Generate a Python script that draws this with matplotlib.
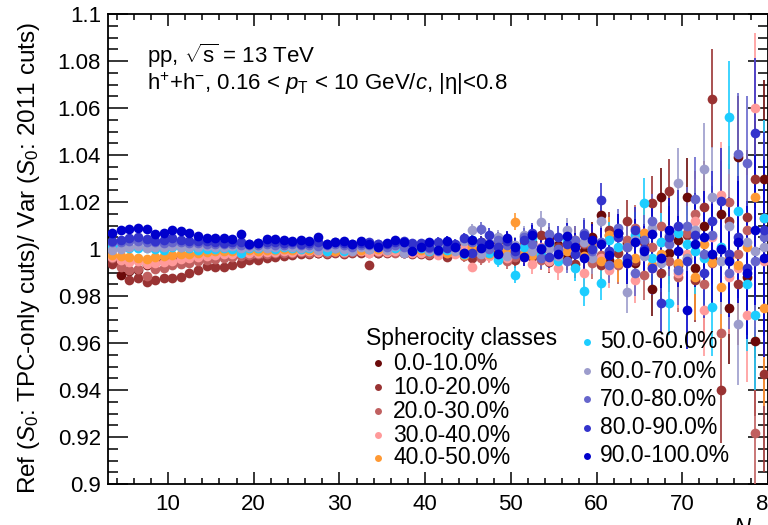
import numpy as np
import matplotlib
matplotlib.use('Agg')
import matplotlib.pyplot as plt
from matplotlib.ticker import MultipleLocator, FuncFormatter

plt.rcParams['font.family'] = ['Liberation Sans', 'DejaVu Sans']
plt.rcParams['mathtext.fontset'] = 'custom'
plt.rcParams['mathtext.rm'] = 'Liberation Sans'
plt.rcParams['mathtext.it'] = 'Liberation Sans:italic'
plt.rcParams['mathtext.bf'] = 'Liberation Sans:bold'

# multiplicity bin centres
nch = np.arange(3.5, 80.0, 1.0)

classes = ['0.0-10.0%', '10.0-20.0%', '20.0-30.0%', '30.0-40.0%', '40.0-50.0%',
           '50.0-60.0%', '60.0-70.0%', '70.0-80.0%', '80.0-90.0%', '90.0-100.0%']
colors = ['#6b0a0a', '#993333', '#c06060', '#ff9a9a', '#ff9933',
          '#1ccdff', '#9c9ccc', '#6666cc', '#3333cc', '#0000cc']

s0_10 = [0.9955, 0.9890, 0.9908, 0.9912, 0.9930, 0.9945, 0.9950, 0.9955, 0.9960, 0.9963,
         0.9966, 0.9968, 0.9972, 0.9975, 0.9975, 0.9978, 0.9980, 0.9978, 0.9982, 0.9980,
         0.9985, 0.9982, 0.9985, 0.9988, 0.9985, 0.9990, 0.9988, 0.9985, 0.9990, 0.9988,
         0.9992, 0.9985, 0.9990, 0.9988, 0.9985, 0.9992,
         0.9988, 1.0002, 0.9985, 1.0010, 0.9990, 1.0015, 0.9992, 1.0030, 1.0008, 1.0035, 0.9985,
         1.0012, 0.9980, 1.0030, 0.9970, 1.0045, 1.0015, 0.9965, 1.0030, 0.9990, 1.0050,
         1.0145, 0.9955, 1.0070, 1.0025, 0.9940, 1.0060, 0.9830, 1.0220, 0.9985, 1.0040,
         1.0223, 0.9920, 1.0100, 0.9960, 1.0150, 0.9750, 1.0390, 0.9880, 0.9610, 1.0300]
s10_20 = [0.9935, 0.9930, 0.9868, 0.9875, 0.9861, 0.9868, 0.9875, 0.9877, 0.9879, 0.9899,
          0.9911, 0.9929, 0.9925, 0.9925, 0.9932, 0.9939, 0.9953, 0.9955, 0.9962, 0.9968,
          0.9972, 0.9975, 0.9978, 0.9980, 0.9982, 0.9980, 0.9985, 0.9980, 0.9984, 0.9982,
          0.9930, 0.9985, 0.9983, 0.9987, 0.9985, 0.9980,
          0.9980, 0.9975, 0.9990, 0.9965, 0.9995, 0.9980, 0.9960, 1.0010, 0.9975, 0.9990, 1.0040,
          0.9955, 1.0020, 0.9965, 1.0060, 0.9945, 1.0010, 1.0050, 0.9935, 1.0020, 0.9960,
          0.9930, 1.0080, 0.9985, 1.0120, 0.9950, 1.0030, 1.0196, 0.9900, 1.0248, 0.9930,
          1.0060, 0.9870, 1.0180, 1.0639, 0.9400, 1.0120, 0.9850, 1.0136, 1.0300, 0.9470]
s20_30 = [0.9960, 0.9925, 0.9911, 0.9913, 0.9885, 0.9913, 0.9920, 0.9930, 0.9935, 0.9940,
          0.9950, 0.9955, 0.9958, 0.9962, 0.9965, 0.9970, 0.9975, 0.9978, 0.9980, 0.9982,
          0.9985, 0.9983, 0.9986, 0.9985, 0.9988, 0.9984, 0.9988, 0.9985, 0.9987, 0.9990,
          0.9985, 0.9988, 0.9990, 0.9985, 0.9988, 0.9990,
          0.9990, 0.9978, 0.9995, 0.9982, 1.0000, 0.9970, 0.9985, 0.9960, 1.0005, 0.9975, 0.9950,
          0.9968, 1.0015, 0.9980, 0.9955, 1.0030, 0.9970, 1.0045, 0.9990, 1.0025, 0.9940,
          0.9975, 1.0060, 0.9930, 1.0040, 1.0090, 0.9890, 1.0010, 1.0100, 0.9950, 0.9880,
          1.0070, 1.0150, 0.9850, 0.9940, 0.9644, 1.0200, 0.9980, 1.0080, 0.9216, 1.0130]
s30_40 = [0.9965, 0.9955, 0.9945, 0.9948, 0.9935, 0.9940, 0.9945, 0.9950, 0.9958, 0.9962,
          0.9968, 0.9972, 0.9975, 0.9978, 0.9980, 0.9982, 0.9985, 0.9983, 0.9986, 0.9988,
          0.9990, 0.9988, 0.9992, 0.9990, 0.9988, 0.9993, 0.9990, 0.9988, 0.9995, 0.9990,
          0.9985, 0.9990, 0.9988, 0.9992, 0.9990, 0.9985,
          0.9985, 0.9992, 0.9975, 0.9995, 0.9980, 1.0005, 0.9925, 0.9990, 0.9970, 1.0010, 0.9960,
          0.9990, 0.9965, 0.9935, 1.0010, 0.9950, 0.9920, 1.0020, 0.9985, 0.9900, 1.0030,
          0.9960, 0.9910, 1.0050, 0.9940, 0.9870, 1.0070, 0.9920, 1.0030, 1.0080, 0.9900,
          0.9980, 1.0120, 0.9740, 1.0050, 1.0230, 0.9880, 0.9920, 0.9720, 1.0600, 0.9950]
s40_50 = [0.9975, 0.9969, 0.9968, 0.9961, 0.9958, 0.9968, 0.9970, 0.9975, 0.9978, 0.9980,
          0.9985, 0.9988, 0.9990, 0.9992, 0.9990, 0.9992, 0.9995, 0.9992, 0.9996, 0.9995,
          0.9998, 0.9996, 0.9998, 0.9995, 0.9995, 0.9998, 0.9990, 0.9996, 1.0000, 0.9995,
          0.9998, 1.0000, 0.9995, 1.0005, 0.9998, 1.0002,
          0.9995, 0.9990, 1.0005, 0.9985, 1.0000, 0.9975, 1.0010, 0.9990, 0.9980, 1.0005, 0.9990,
          1.0116, 0.9985, 0.9975, 0.9990, 1.0020, 0.9965, 0.9990, 1.0040, 0.9970, 1.0010,
          0.9950, 1.0060, 0.9940, 1.0010, 0.9960, 1.0070, 0.9930, 0.9980, 1.0050, 0.9940,
          0.9960, 0.9880, 1.0020, 0.9945, 0.9840, 0.9960, 0.9930, 1.0010, 1.0223, 0.9750]
s50_60 = [1.0008, 1.0010, 1.0005, 1.0005, 1.0005, 1.0002, 0.9995, 1.0008, 1.0010, 1.0005,
          0.9995, 1.0002, 0.9998, 1.0005, 1.0000, 0.9985, 1.0003, 1.0005, 1.0008, 0.9998,
          1.0010, 1.0003, 1.0000, 1.0005, 1.0010, 0.9990, 1.0005, 0.9990, 1.0008, 1.0012,
          1.0000, 1.0008, 1.0015, 1.0005, 1.0000, 1.0002,
          1.0005, 0.9990, 1.0015, 0.9995, 1.0010, 0.9980, 1.0040, 1.0015, 0.9985, 0.9953, 1.0030,
          0.9890, 1.0010, 1.0045, 0.9975, 1.0020, 0.9950, 1.0035, 0.9920, 0.9820, 1.0000,
          0.9856, 1.0040, 1.0010, 0.9950, 1.0060, 1.0195, 0.9960, 1.0030, 0.9770, 1.0070,
          1.0020, 0.9990, 0.9960, 0.9754, 1.0010, 1.0560, 1.0160, 0.9850, 0.9720, 1.0130]
s60_70 = [0.9995, 1.0002, 1.0008, 1.0012, 1.0005, 1.0010, 1.0008, 1.0012, 1.0010, 1.0008,
          1.0010, 1.0012, 1.0008, 1.0010, 1.0012, 1.0005, 1.0008, 1.0010, 1.0005, 1.0010,
          1.0012, 1.0008, 1.0006, 1.0010, 0.9995, 1.0010, 1.0005, 1.0002, 0.9990, 1.0010,
          1.0000, 1.0008, 0.9995, 1.0012, 0.9985, 1.0010,
          1.0010, 0.9995, 1.0020, 1.0005, 0.9990, 1.0035, 1.0080, 0.9980, 1.0025, 1.0050, 0.9970,
          1.0015, 1.0060, 0.9990, 1.0116, 1.0000, 0.9970, 1.0080, 0.9985, 1.0030, 0.9960,
          1.0120, 0.9990, 1.0050, 0.9817, 1.0040, 0.9970, 1.0090, 0.9940, 1.0060, 1.0280,
          0.9960, 1.0080, 1.0340, 1.0223, 0.9950, 1.0100, 0.9680, 1.0030, 0.9990, 1.0010]
s70_80 = [1.0030, 1.0028, 1.0033, 1.0035, 1.0030, 1.0028, 1.0025, 1.0030, 1.0028, 1.0025,
          1.0024, 1.0022, 1.0020, 1.0022, 1.0020, 1.0018, 1.0015, 1.0018, 1.0020, 1.0015,
          1.0018, 1.0020, 1.0015, 1.0018, 1.0012, 1.0015, 1.0020, 1.0018, 1.0010, 1.0018,
          1.0015, 1.0020, 1.0008, 1.0015, 1.0010, 1.0018,
          1.0020, 1.0005, 0.9990, 1.0025, 1.0010, 0.9985, 1.0030, 1.0087, 1.0000, 1.0040, 1.0015,
          0.9980, 1.0050, 1.0020, 0.9960, 1.0065, 1.0000, 0.9950, 1.0040, 1.0070, 0.9990,
          1.0030, 0.9930, 1.0090, 1.0010, 0.9900, 1.0040, 1.0120, 0.9960, 1.0020, 0.9910,
          1.0100, 1.0213, 0.9980, 1.0060, 1.0000, 0.9900, 1.0405, 1.0366, 0.9950, 1.0050]
s80_90 = [1.0035, 1.0040, 1.0045, 1.0050, 1.0042, 1.0035, 1.0040, 1.0045, 1.0038, 1.0035,
          1.0035, 1.0032, 1.0030, 1.0025, 1.0030, 1.0028, 1.0022, 1.0025, 1.0030, 1.0028,
          1.0025, 1.0030, 1.0022, 1.0025, 1.0028, 1.0020, 1.0030, 1.0025, 1.0020, 1.0025,
          1.0030, 1.0022, 1.0020, 1.0028, 1.0035, 1.0025,
          1.0025, 1.0010, 1.0030, 1.0005, 1.0020, 1.0045, 0.9985, 1.0030, 1.0060, 1.0010, 1.0035,
          0.9990, 1.0040, 1.0070, 1.0005, 0.9965, 1.0050, 1.0020, 0.9980, 1.0060, 1.0000,
          1.0209, 0.9990, 1.0050, 0.9960, 1.0080, 1.0000, 0.9920, 0.9770, 1.0050, 1.0100,
          0.9950, 1.0060, 0.9900, 1.0120, 1.0206, 0.9980, 1.0050, 0.9920, 1.0494, 1.0080]
s90_100 = [1.0067, 1.0081, 1.0087, 1.0089, 1.0087, 1.0064, 1.0070, 1.0081, 1.0077, 1.0067,
           1.0055, 1.0045, 1.0047, 1.0045, 1.0043, 1.0063, 1.0021, 1.0024, 1.0041, 1.0043,
           1.0037, 1.0033, 1.0037, 1.0034, 1.0050, 1.0021, 1.0030, 1.0032, 1.0023, 1.0033,
           1.0021, 1.0007, 1.0027, 1.0038, 1.0030, 0.9990,
           1.0010, 1.0030, 0.9995, 1.0035, 1.0010, 0.9985, 1.0040, 1.0005, 1.0020, 0.9980, 1.0045,
           1.0010, 0.9965, 1.0060, 1.0000, 1.0030, 0.9980, 1.0055, 1.0010, 0.9960, 1.0040,
           1.0020, 0.9975, 1.0070, 0.9940, 1.0030, 0.9990, 1.0065, 0.9960, 1.0080, 0.9990,
           0.9740, 1.0020, 1.0050, 0.9980, 1.0000, 0.9950, 1.0030, 0.9900, 1.0080, 0.9960]

# statistical uncertainty per bin (roughly the same for all classes)
err = [0.0006, 0.0005, 0.0005, 0.0005, 0.0005, 0.0005, 0.0005, 0.0005, 0.0005, 0.0005,
       0.0005, 0.0005, 0.0005, 0.0005, 0.0005, 0.0005, 0.0006, 0.0006, 0.0006, 0.0006,
       0.0007, 0.0007, 0.0007, 0.0008, 0.0008, 0.0008, 0.0009, 0.0009, 0.0010, 0.0010,
       0.0011, 0.0012, 0.0012, 0.0013, 0.0014, 0.0015, 0.0016, 0.0018, 0.0019, 0.0020,
       0.0022, 0.0024, 0.0025, 0.0027, 0.0029, 0.0031, 0.0033, 0.0036, 0.0038, 0.0041,
       0.0044, 0.0047, 0.0050, 0.0054, 0.0058, 0.0062, 0.0066, 0.0071, 0.0076, 0.0081,
       0.0090, 0.0098, 0.0106, 0.0115, 0.0125, 0.0135, 0.0150, 0.0165, 0.0180, 0.0195,
       0.0210, 0.0225, 0.0240, 0.0260, 0.0285, 0.0320, 0.0420]

series = [s0_10, s10_20, s20_30, s30_40, s40_50, s50_60, s60_70, s70_80, s80_90, s90_100]

W, H = 768, 525
fig = plt.figure(figsize=(W / 100, H / 100), dpi=100)
ax = fig.add_axes([108 / W, 41 / H, 660 / W, 470 / H])

for vals, col in zip(series, colors):
    ax.errorbar(nch, vals, yerr=err, fmt='o', color=col, ms=7, mew=0,
                elinewidth=1.2, capsize=0, zorder=3)

ax.set_xlim(3, 80)
ax.set_ylim(0.9, 1.1)
ax.xaxis.set_major_locator(MultipleLocator(10))
ax.xaxis.set_minor_locator(MultipleLocator(2))
ax.yaxis.set_major_locator(MultipleLocator(0.02))
ax.yaxis.set_minor_locator(MultipleLocator(0.005))
ax.yaxis.set_major_formatter(FuncFormatter(lambda v, p: '%g' % round(v, 3)))
ax.tick_params(axis='both', which='both', direction='in', top=True, right=True,
               labelsize=16, width=1.1)
ax.tick_params(axis='x', which='major', length=8.6, pad=7)
ax.tick_params(axis='x', which='minor', length=4.3)
ax.tick_params(axis='y', which='major', length=14.4, pad=5)
ax.tick_params(axis='y', which='minor', length=7.5)
for sp in ax.spines.values():
    sp.set_linewidth(1.3)

def fx(px):
    return px / W

def fy(py):
    return 1 - py / H

fig.text(fx(29), fy(258), r'Ref ($S_{0}$: TPC-only cuts)/ Var ($S_{0}$: 2011 cuts)',
         rotation=90, ha='center', va='center', fontsize=17.5)
fig.text(fx(733), fy(516), r'$N_{\mathrm{ch}}$', ha='left', va='top', fontsize=17)

fig.text(fx(147), fy(63), r'pp, $\sqrt{\mathrm{s}}$ = 13 TeV', ha='left', va='baseline',
         fontsize=16)
fig.text(fx(147), fy(90),
         r'h$^{+}$+h$^{-}$, 0.16 < $p_{\mathrm{T}}$ < 10 GeV/$c$, |η|<0.8',
         ha='left', va='baseline', fontsize=16)

# legend, drawn by hand in two columns
fig.text(fx(366), fy(338), 'Spherocity classes', ha='left', va='center', fontsize=16.5)
left_rows = [363, 387, 411, 435, 458]
right_rows = [342, 371, 399, 428, 456]
for i, (lab, col) in enumerate(zip(classes, colors)):
    if i < 5:
        mx, tx, py = 378, 393, left_rows[i]
    else:
        mx, tx, py = 587, 600, right_rows[i - 5]
    ax.plot([fx(mx)], [fy(py)], 'o', color=col, ms=5, mew=0,
            transform=fig.transFigure, clip_on=False, zorder=2)
    fig.text(fx(tx), fy(py), lab, ha='left', va='center', fontsize=16.5)

plt.savefig('out.png', dpi=100)
